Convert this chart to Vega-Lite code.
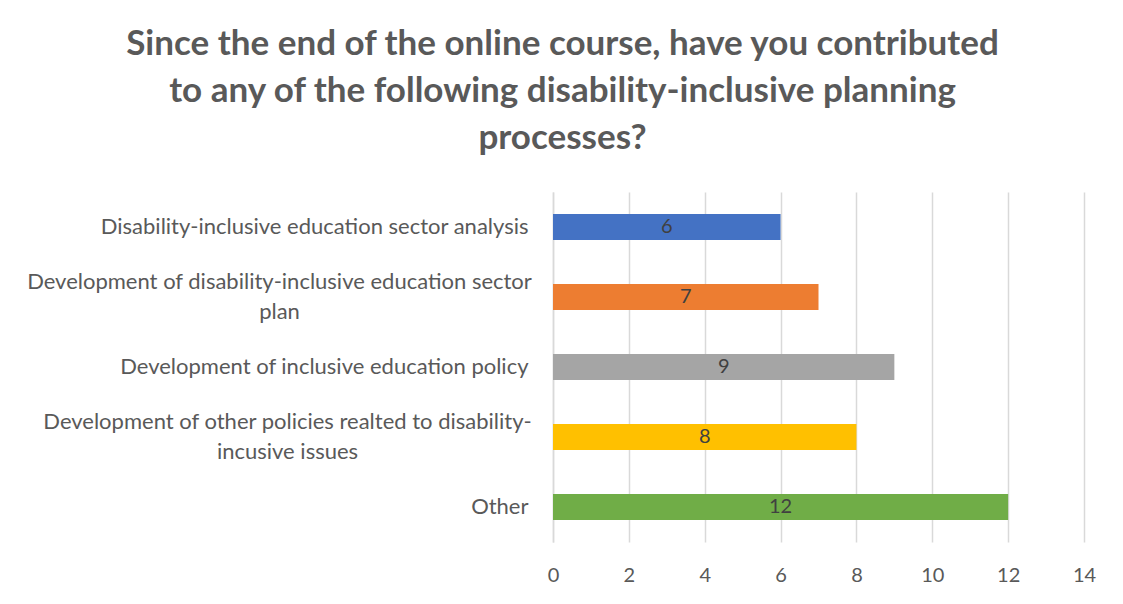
{
  "$schema": "https://vega.github.io/schema/vega-lite/v6.json",
  "width": 531,
  "height": 350,
  "autosize": {"type": "none"},
  "padding": {"left": 553, "top": 192, "right": 39, "bottom": 62},
  "background": "white",
  "title": {
    "text": ["Since the end of the online course, have you contributed", "to any of the following disability-inclusive planning", "processes?"],
    "font": "Lato",
    "fontSize": 35,
    "fontWeight": "bold",
    "color": "#595959",
    "anchor": "middle",
    "dx": -256,
    "lineHeight": 47,
    "offset": 36
  },
  "data": {
    "values": [
      {"category": "Disability-inclusive education sector analysis", "value": 6},
      {"category": "Development of disability-inclusive education sector|plan", "value": 7},
      {"category": "Development of inclusive education policy", "value": 9},
      {"category": "Development of other policies realted to disability-|incusive issues", "value": 8},
      {"category": "Other", "value": 12}
    ]
  },
  "encoding": {
    "y": {
      "field": "category",
      "type": "nominal",
      "sort": null,
      "scale": {"paddingInner": 0.63, "paddingOuter": 0.315},
      "axis": {
        "title": null,
        "labelExpr": "split(datum.label, '|')",
        "labelFont": "Lato",
        "labelFontSize": 22,
        "labelColor": "#595959",
        "labelAlign": {"condition": {"test": "indexof(datum.value, '|') >= 0", "value": "center"}, "value": "right"},
        "labelPadding": {"condition": [{"test": "indexof(datum.value, 'plan') >= 0", "value": 274}, {"test": "indexof(datum.value, 'incusive') >= 0", "value": 266}], "value": 25},
        "labelOffset": {"condition": {"test": "indexof(datum.value, '|') >= 0", "value": -15}, "value": 0},
        "labelLimit": 700,
        "labelLineHeight": 30,
        "ticks": false,
        "domain": true,
        "domainColor": "#D9D9D9",
        "domainWidth": 1.5,
        "grid": false
      }
    }
  },
  "layer": [
    {
      "mark": {"type": "bar"},
      "encoding": {
        "x": {
          "field": "value",
          "type": "quantitative",
          "scale": {"domain": [0, 14]},
          "axis": {
            "title": null,
            "values": [0, 2, 4, 6, 8, 10, 12, 14],
            "grid": true,
            "gridColor": "#D9D9D9",
            "gridWidth": 1.5,
            "domain": false,
            "ticks": false,
            "labelFlush": false,
            "labelFont": "Lato",
            "labelFontSize": 20,
            "labelColor": "#595959",
            "labelPadding": 23
          }
        },
        "color": {
          "field": "category",
          "type": "nominal",
          "sort": null,
          "scale": {"range": ["#4472C4", "#ED7D31", "#A5A5A5", "#FFC000", "#70AD47"]},
          "legend": null
        }
      }
    },
    {
      "mark": {"type": "text", "font": "Lato", "fontSize": 20, "color": "#404040", "baseline": "middle", "align": "center"},
      "encoding": {
        "x": {
          "field": "value",
          "type": "quantitative",
          "scale": {"domain": [0, 28]},
          "axis": null
        },
        "text": {"field": "value", "type": "quantitative"}
      }
    }
  ],
  "resolve": {"scale": {"x": "independent"}},
  "config": {"view": {"stroke": null}}
}
